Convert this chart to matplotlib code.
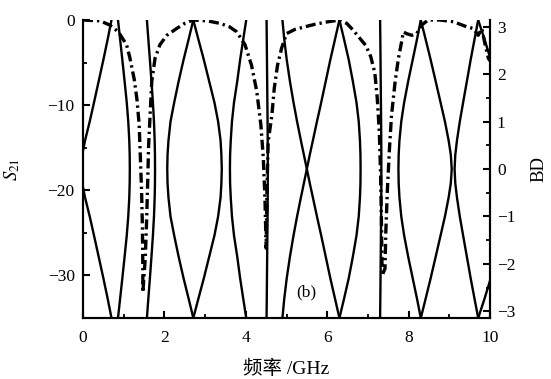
import numpy as np
import matplotlib
matplotlib.use("Agg")
import matplotlib.pyplot as plt
from matplotlib.ticker import MultipleLocator

plt.rcParams['font.family'] = ['Liberation Serif', 'Noto Sans CJK SC']
plt.rcParams['mathtext.fontset'] = 'stix'

# ---- S21 measured transmission (GHz, dB) ----
s21_freq = [0.00, 0.20, 0.42, 0.66, 0.87, 1.07, 1.15, 1.26, 1.33, 1.38, 1.41, 1.44,
            1.46, 1.47, 1.47, 1.53, 1.56, 1.59, 1.61, 1.65, 1.69, 1.77, 1.89, 2.06,
            2.30, 2.50, 2.70, 3.05, 3.37, 3.60, 3.78, 3.98, 4.14, 4.27, 4.37, 4.43,
            4.47, 4.50, 4.52, 4.55, 4.64, 4.70, 4.78, 4.88, 5.00, 5.21, 5.45, 5.70,
            6.03, 6.31, 6.48, 6.64, 6.81, 6.95, 7.07, 7.17, 7.23, 7.28, 7.31, 7.33,
            7.35, 7.42, 7.44, 7.48, 7.53, 7.58, 7.67, 7.75, 7.83, 7.87, 7.95, 8.08,
            8.20, 8.32, 8.48, 8.77, 9.10, 9.43, 9.59, 9.71, 9.80, 9.88, 9.96, 10.0]
s21_db = [0.0, -0.05, -0.1, -0.6, -1.4, -2.9, -4.4, -7.0, -9.5, -12.3, -16.2, -20.2,
          -24.4, -29.0, -32.0, -28.0, -24.0, -19.0, -15.0, -11.0, -7.2, -4.5, -2.9, -1.8,
          -1.0, -0.4, 0.0, -0.1, -0.4, -0.8, -1.4, -2.9, -5.3, -8.4, -12.3, -16.2,
          -20.9, -26.8, -20.0, -14.3, -11.2, -8.0, -5.3, -3.3, -1.6, -1.1, -0.8, -0.5,
          -0.2, 0.0, -0.4, -1.2, -2.2, -3.0, -4.3, -6.2, -9.2, -13.1, -17.8, -23.0,
          -30.0, -29.2, -24.9, -19.8, -15.1, -11.2, -7.2, -4.5, -2.5, -1.4, -1.6, -1.8,
          -1.6, -0.6, 0.0, 0.0, -0.2, -0.8, -1.0, -1.8, -1.0, -2.9, -4.5, -4.8]

# ---- Dispersion (BD) curves: frequency at each |BD| value (upper half, mirrored) ----
bd_values = [3.1416, 2.75, 2.3, 1.85, 1.4, 1.0, 0.6, 0.3, 0.0]
band_curves = [
    [0.70, 0.61, 0.50, 0.385, 0.27, 0.165, 0.05, -0.02, -0.05],
    [0.86, 0.91, 0.967, 1.022, 1.075, 1.112, 1.137, 1.147, 1.15],
    [1.57, 1.604, 1.644, 1.682, 1.718, 1.744, 1.761, 1.768, 1.77],
    [2.71, 2.60, 2.47, 2.35, 2.24, 2.15, 2.10, 2.077, 2.07],
    [2.71, 2.83, 2.97, 3.10, 3.23, 3.32, 3.38, 3.40, 3.41],
    [4.01, 3.94, 3.86, 3.79, 3.71, 3.66, 3.63, 3.614, 3.61],
    [4.51, 4.515, 4.52, 4.525, 4.53, 4.535, 4.538, 4.54, 4.54],
    [4.90, 4.943, 5.006, 5.084, 5.173, 5.26, 5.354, 5.427, 5.50],
    [6.30, 6.196, 6.076, 5.964, 5.852, 5.748, 5.648, 5.572, 5.50],
    [6.30, 6.41, 6.53, 6.63, 6.72, 6.775, 6.805, 6.817, 6.82],
    [7.30, 7.305, 7.31, 7.315, 7.32, 7.325, 7.328, 7.33, 7.33],
    [8.30, 8.21, 8.10, 7.99, 7.89, 7.82, 7.775, 7.756, 7.75],
    [8.30, 8.414, 8.543, 8.665, 8.786, 8.893, 8.984, 9.037, 9.06],
    [9.71, 9.623, 9.524, 9.432, 9.339, 9.258, 9.188, 9.147, 9.13],
    [9.71, 9.86, 10.02, 10.12, 10.20, 10.25, 10.28, 10.30, 10.30],
]

x_ticks = [0, 2, 4, 6, 8, 10]
y_ticks = [0, -10, -20, -30]
bd_ticks = [-3, -2, -1, 0, 1, 2, 3]

fig = plt.figure(figsize=(5.51, 3.79), dpi=100)
ax = fig.add_axes([83/551, 1-318/379, 407/551, 298/379])
ax2 = ax.twinx()

ax.plot(s21_freq, s21_db, color='black', lw=2.4,
        linestyle=(0, (3.0, 1.2, 0.7, 1.2)), solid_capstyle='butt')

for f in band_curves:
    xs = list(f) + list(f[::-1][1:])
    ys = list(bd_values) + [-b for b in bd_values[::-1][1:]]
    ax2.plot(xs, ys, color='black', lw=1.7)

ax.set_xlim(0, 10)
ax.set_ylim(-35, 0)
ax2.set_ylim(-np.pi, np.pi)

ax.set_xticks(x_ticks)
ax.set_yticks(y_ticks)
ax.set_yticklabels(['0' if v == 0 else '\u2212%d' % -v for v in y_ticks])
ax2.set_yticks(bd_ticks)
ax2.set_yticklabels(['\u2212%d' % -v if v < 0 else '%d' % v for v in bd_ticks])
ax.xaxis.set_minor_locator(MultipleLocator(1))
ax.yaxis.set_minor_locator(MultipleLocator(5))
ax2.yaxis.set_minor_locator(MultipleLocator(0.5))

for a in (ax, ax2):
    a.spines['top'].set_visible(False)
    for s in a.spines.values():
        s.set_linewidth(1.5)
    a.tick_params(which='major', direction='in', length=5, width=1.5, labelsize=12.5)
    a.tick_params(which='minor', direction='in', length=3, width=1.3)
ax.tick_params(axis='x', which='both', top=False, pad=9)
ax.tick_params(axis='y', which='both', right=False, pad=6)
ax2.tick_params(axis='y', which='both', left=False, pad=5)

ax.set_ylabel(r'$S_{21}$', fontsize=13.5)
ax.yaxis.set_label_coords(-0.15, 0.5)
ax2.set_ylabel('BD', fontsize=13.5)
ax2.yaxis.set_label_coords(1.10, 0.5)
ax.set_xlabel('频率 /GHz', fontsize=14)
ax.xaxis.set_label_coords(0.5, -0.14)

ax.text(5.48, -32, '(b)', fontsize=12.5, ha='center', va='center')

fig.savefig('out.png', dpi=100)
